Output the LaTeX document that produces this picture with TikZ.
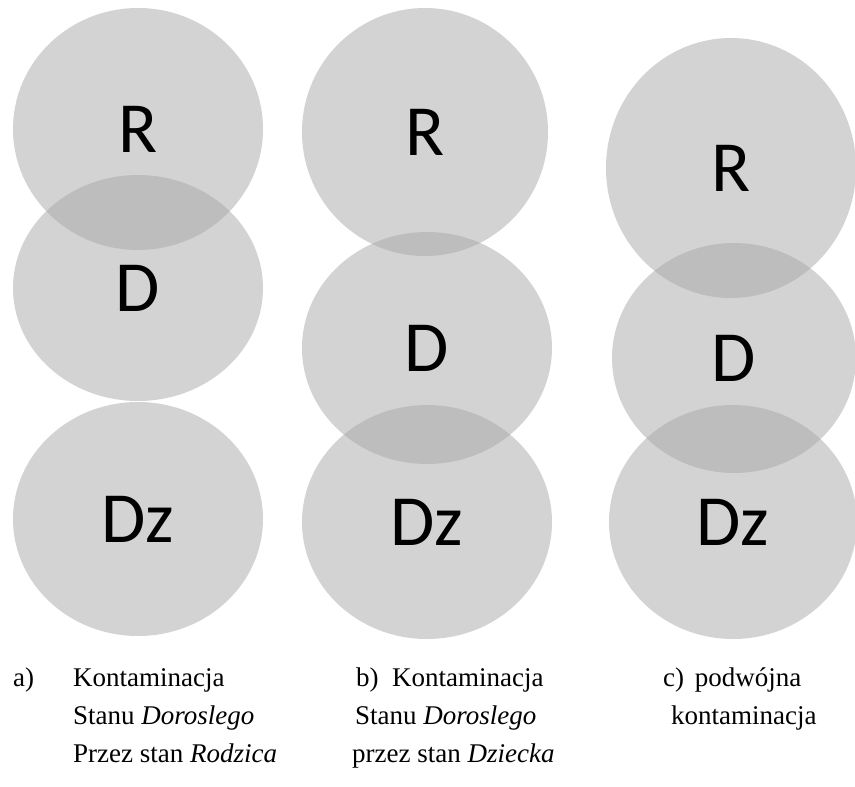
\documentclass[tikz,border=0pt]{standalone}
\usepackage{fontspec}
\setmainfont{Liberation Serif}
\newfontfamily\calibri{Carlito}
\usetikzlibrary{shapes.geometric}
\definecolor{blobgray}{RGB}{167,167,167}

\begin{document}
\begin{tikzpicture}[
  x = 1pt, y = -1pt,
  blob/.style = {ellipse,inner sep=0pt,fill=blobgray,fill opacity=.5,text opacity=1,
    font=\calibri\fontsize{72}{80}\selectfont},
  txt/.style = {anchor=base west,inner sep=0pt,font=\fontsize{27}{32}\selectfont}
  ]
  \useasboundingbox (0,0) rectangle (855,787);

  \node[blob,minimum width=250pt,minimum height=242pt] (@aR) at (138,129) {R};
  \node[blob,minimum width=250pt,minimum height=226pt] (@aD) at (138,288) {D};
  \node[blob,minimum width=250pt,minimum height=234pt] (@aDz) at (138,519) {Dz};

  \node[blob,minimum width=246pt,minimum height=248pt] (@bR) at (425,132) {R};
  \node[blob,minimum width=250pt,minimum height=232pt] (@bD) at (427,348) {D};
  \node[blob,minimum width=250pt,minimum height=234pt] (@bDz) at (427,522) {Dz};

  \node[blob,minimum width=250pt,minimum height=260pt] (@cR) at (731,168) {R};
  \node[blob,minimum width=244pt,minimum height=230pt] (@cD) at (734,358) {D};
  \node[blob,minimum width=248pt,minimum height=234pt] (@cDz) at (733,522) {Dz};

  \node[txt] (@a) at (13,686) {a)};
  \node[txt] (@a1) at (73,686) {Kontaminacja};
  \node[txt] (@a2) at (73,724) {Stanu \textit{Doroslego}};
  \node[txt] (@a3) at (73,762) {Przez stan \textit{Rodzica}};

  \node[txt] (@b1) at (356,686) {b)\hspace{.5em}Kontaminacja};
  \node[txt] (@b2) at (355,724) {Stanu \textit{Doroslego}};
  \node[txt] (@b3) at (352,762) {przez stan \textit{Dziecka}};

  \node[txt] (@c1) at (663,686) {c)\hspace{.4em}podwójna};
  \node[txt] (@c2) at (671,724) {kontaminacja};
\end{tikzpicture}
\end{document}
